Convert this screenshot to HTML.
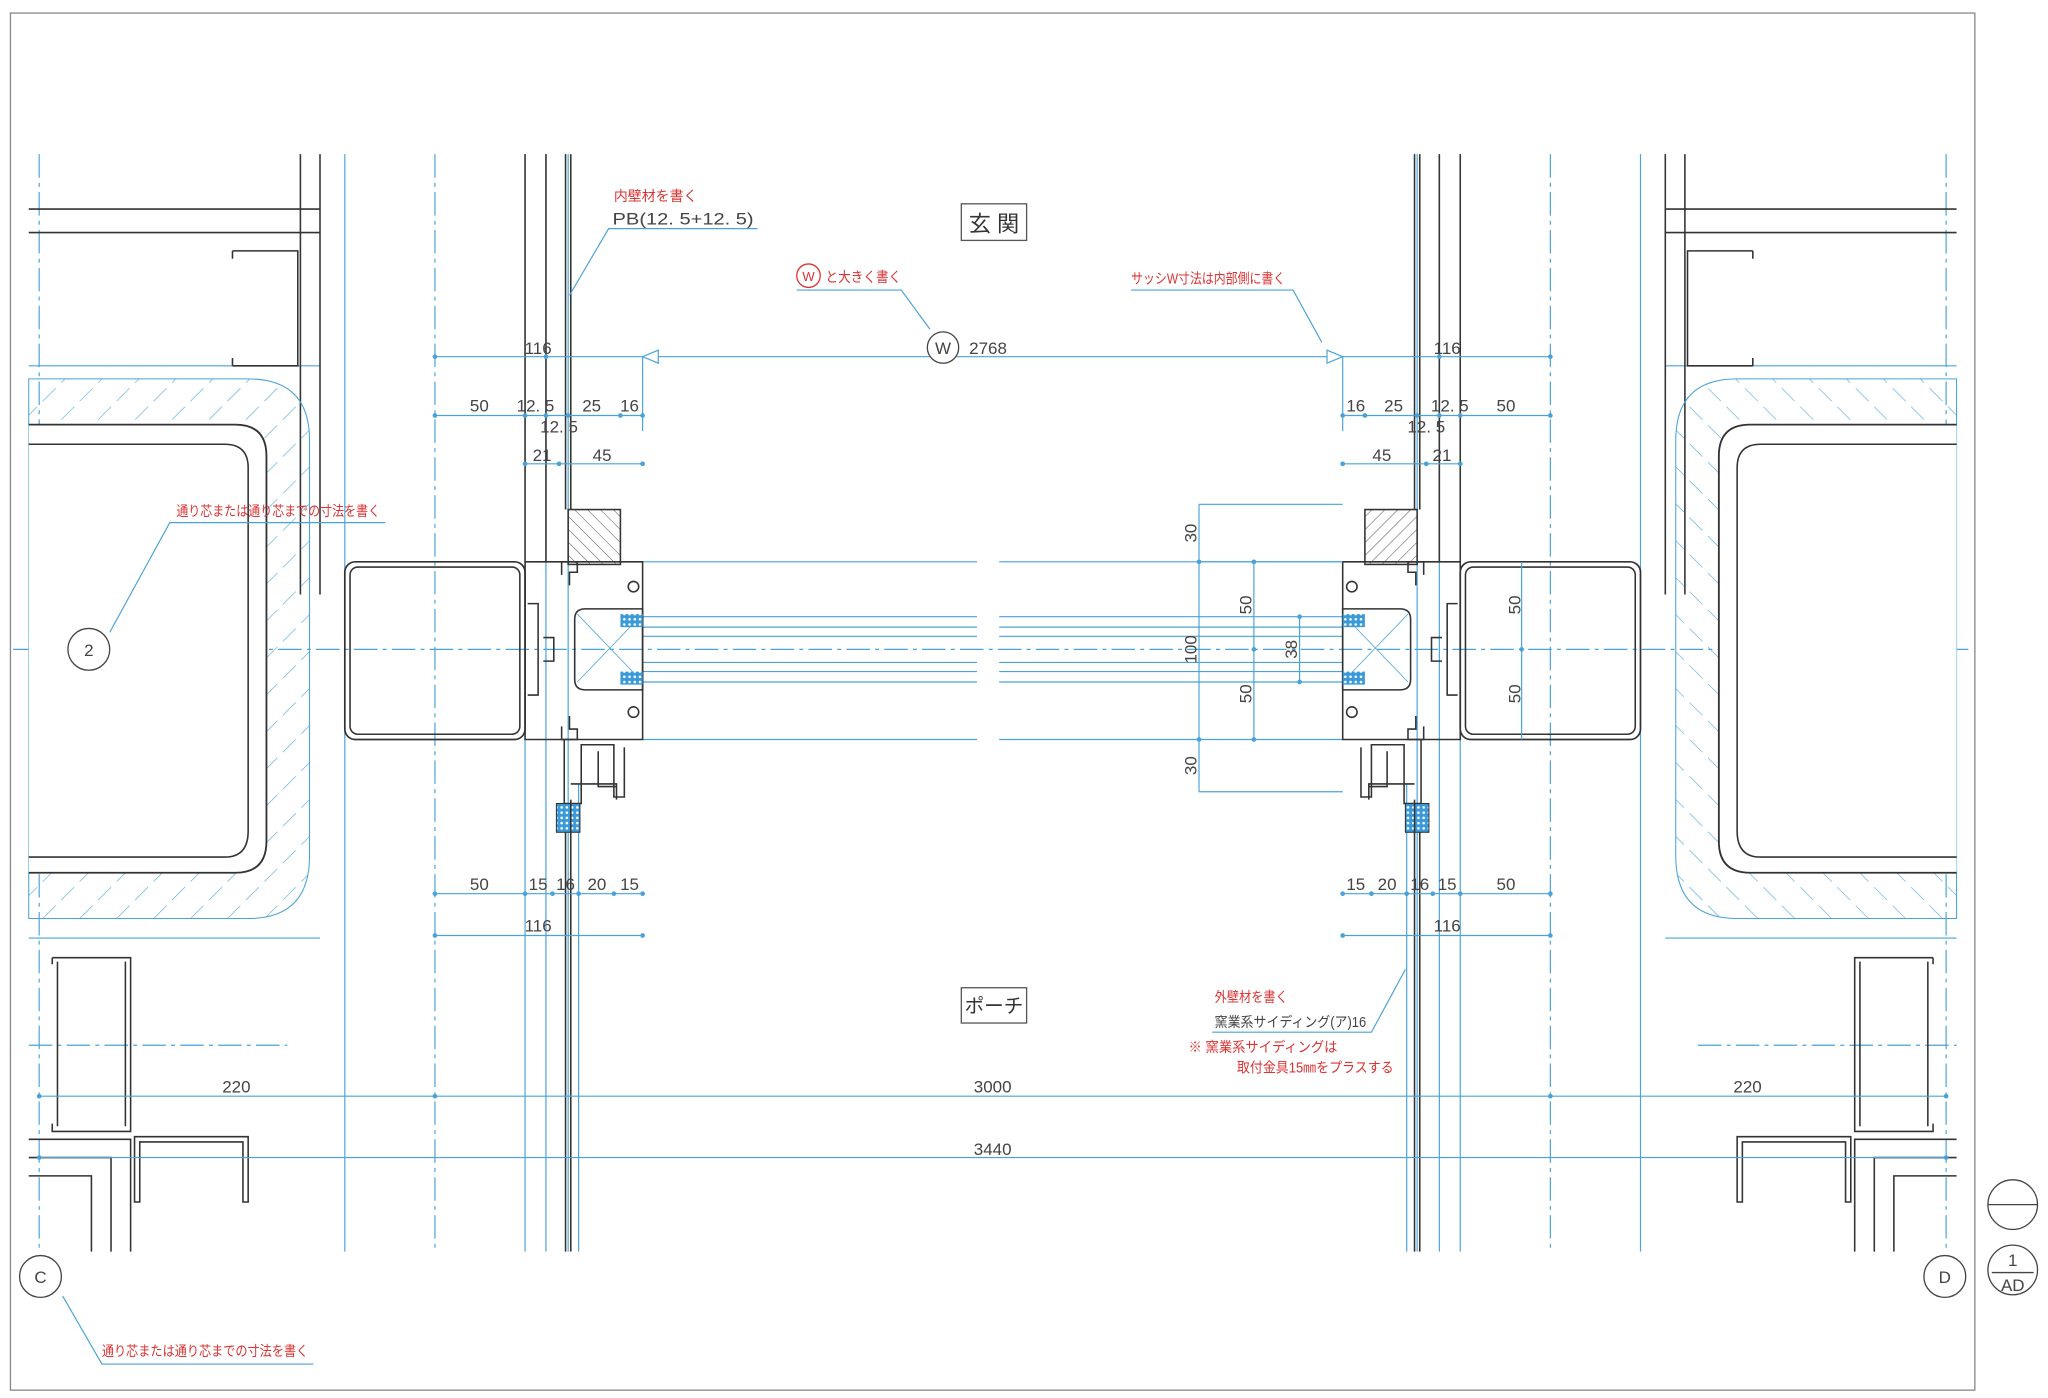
<!DOCTYPE html>
<html><head><meta charset="utf-8"><style>
html,body{margin:0;padding:0;background:#fff}
svg{display:block}
text{font-family:"Liberation Sans","Noto Sans CJK JP",sans-serif}
</style></head><body>
<svg width="2048" height="1398" viewBox="0 0 1568 1070" preserveAspectRatio="none" xmlns="http://www.w3.org/2000/svg">
<defs>
<pattern id="h" width="20" height="20" patternUnits="userSpaceOnUse" patternTransform="rotate(45)"><line x1="0" y1="0" x2="0" y2="20" stroke="#5aaedc" stroke-width="1" stroke-dasharray="14 6"/></pattern>
<pattern id="h2" width="7" height="7" patternUnits="userSpaceOnUse" patternTransform="rotate(-45)"><line x1="0" y1="0" x2="0" y2="7" stroke="#555" stroke-width="0.8"/></pattern>
<pattern id="x" width="4" height="4" patternUnits="userSpaceOnUse"><rect width="4" height="4" fill="#3a9ad9"/><circle cx="2" cy="2" r="1" fill="#fff"/></pattern>
</defs>
<rect x="8" y="10" width="1504" height="1054" fill="none" stroke="#888" stroke-width="1"/>

<g stroke="#4aa3d8" stroke-width="0.9" fill="none">
<g stroke-dasharray="18 4 3 4">
<line x1="30" y1="118" x2="30" y2="958"/><line x1="1490" y1="118" x2="1490" y2="958"/>
<line x1="333" y1="118" x2="333" y2="958"/><line x1="1187" y1="118" x2="1187" y2="958"/>
<line x1="10" y1="497" x2="1510" y2="497"/>
<line x1="22" y1="800" x2="220" y2="800"/><line x1="1300" y1="800" x2="1498" y2="800"/>
</g>
<line x1="264" y1="118" x2="264" y2="958"/><line x1="1256" y1="118" x2="1256" y2="958"/>
<line x1="402" y1="118" x2="402" y2="958"/><line x1="1118" y1="118" x2="1118" y2="958"/>
<line x1="418" y1="118" x2="418" y2="958"/><line x1="1102" y1="118" x2="1102" y2="958"/>
<line x1="435" y1="118" x2="435" y2="958"/><line x1="1085" y1="118" x2="1085" y2="958"/>
<line x1="443" y1="600" x2="443" y2="958"/><line x1="1077" y1="600" x2="1077" y2="958"/>
<line x1="22" y1="280" x2="245" y2="280"/><line x1="1275" y1="280" x2="1498" y2="280"/>
<line x1="22" y1="718" x2="245" y2="718"/><line x1="1275" y1="718" x2="1498" y2="718"/>
<line x1="492" y1="430" x2="748" y2="430"/><line x1="765" y1="430" x2="1028" y2="430"/>
<line x1="492" y1="566" x2="748" y2="566"/><line x1="765" y1="566" x2="1028" y2="566"/>
<line x1="492" y1="472" x2="748" y2="472"/><line x1="765" y1="472" x2="1028" y2="472"/>
<line x1="492" y1="522" x2="748" y2="522"/><line x1="765" y1="522" x2="1028" y2="522"/>
<line x1="492" y1="480" x2="748" y2="480"/><line x1="765" y1="480" x2="1028" y2="480"/>
<line x1="492" y1="487" x2="748" y2="487"/><line x1="765" y1="487" x2="1028" y2="487"/>
<line x1="492" y1="507" x2="748" y2="507"/><line x1="765" y1="507" x2="1028" y2="507"/>
<line x1="492" y1="514" x2="748" y2="514"/><line x1="765" y1="514" x2="1028" y2="514"/>
</g>

<g id="L" stroke="#333" stroke-width="1.2" fill="none">
<line x1="22" y1="160" x2="245" y2="160"/><line x1="22" y1="178" x2="245" y2="178"/>
<line x1="230" y1="118" x2="230" y2="455"/><line x1="245" y1="118" x2="245" y2="455"/>
<path d="M178 192 H228 V280 H178 M178 192 v6 M178 280 v-6" />
<path d="M22 290 H190 Q237 290 237 337 V655 Q237 703 190 703 H22 Z" fill="url(#h)" stroke="#4aa3d8" stroke-width="0.8"/>
<path d="M22 325 H180 Q204 325 204 349 V644 Q204 668 180 668 H22" stroke-width="1.4" fill="#fff"/>
<path d="M22 340 H172 Q190 340 190 358 V636 Q190 656 172 656 H22" stroke-width="1.2"/>
<rect x="264" y="430" width="138" height="136" rx="8" stroke-width="1.3"/>
<rect x="268" y="434" width="130" height="128" rx="6"/>
<line x1="402" y1="118" x2="402" y2="430"/><line x1="418" y1="118" x2="418" y2="430"/>
<line x1="433" y1="118" x2="433" y2="390"/><line x1="437" y1="118" x2="437" y2="390"/>
<rect x="435" y="390" width="40" height="42" fill="url(#h2)"/>
<path d="M402 430 H492 V566 H402 Z"/>
<path d="M448 466 H492 V528 H448 Q440 528 440 520 V474 Q440 466 448 466 Z"/>
<path d="M442 470 L492 522 M442 522 L492 470" stroke="#4aa3d8" stroke-width="0.6"/>
<rect x="475" y="470" width="17" height="10" fill="url(#x)" stroke="none"/>
<rect x="475" y="514" width="17" height="10" fill="url(#x)" stroke="none"/>
<circle cx="485" cy="449" r="4"/><circle cx="485" cy="545" r="4"/>
<path d="M430 440 v-10 h12 v8 h-6 v10 M430 556 v10 h12 v-8 h-6 v-10" />
<path d="M404 462 h8 v70 h-8 M416 488 h8 v18 h-8"/>
<path d="M432 566 V615 H445 V570 H470 V610 H478 V572" />
<path d="M458 575 V602 H472 M437 600 H472 V612"/>
<rect x="426" y="615" width="18" height="22" fill="url(#x)" stroke-width="0.8"/>
<line x1="437" y1="612" x2="437" y2="958"/><line x1="433" y1="637" x2="433" y2="958"/>
<path d="M40 733 V738 M40 733 H100 V866 H40 V860 M44 736 V862 M96 736 V862"/>
<path d="M103 870 H190 V920 H186 V874 H107 V920 H103 Z"/>
<path d="M22 872 H100 V958 M22 886 H85 V958 M22 900 H70 V958"/>
</g>
<use href="#L" transform="matrix(-1,0,0,1,1520,0)"/>

<g stroke="#4aa3d8" stroke-width="0.9" fill="#4aa3d8">
<line x1="333" y1="273" x2="1187" y2="273"/>
<line x1="333" y1="318" x2="492" y2="318"/><line x1="1028" y1="318" x2="1187" y2="318"/>
<line x1="402" y1="355" x2="492" y2="355"/><line x1="1028" y1="355" x2="1118" y2="355"/>
<line x1="333" y1="684" x2="492" y2="684"/><line x1="1028" y1="684" x2="1187" y2="684"/>
<line x1="333" y1="716" x2="492" y2="716"/><line x1="1028" y1="716" x2="1187" y2="716"/>
<line x1="30" y1="839" x2="1490" y2="839"/><line x1="30" y1="886" x2="1490" y2="886"/>
<line x1="492" y1="273" x2="492" y2="330"/><line x1="1028" y1="273" x2="1028" y2="330"/>
<line x1="918" y1="386" x2="1028" y2="386"/><line x1="918" y1="606" x2="1028" y2="606"/>
<line x1="918" y1="386" x2="918" y2="606"/><line x1="960" y1="430" x2="960" y2="566"/>
<line x1="995" y1="472" x2="995" y2="522"/><line x1="1165" y1="430" x2="1165" y2="566"/>
<line x1="918" y1="430" x2="1028" y2="430"/>
<g stroke="none">
<circle cx="333" cy="273" r="1.8"/><circle cx="1187" cy="273" r="1.8"/><circle cx="418" cy="273" r="1.8"/><circle cx="1102" cy="273" r="1.8"/>
<circle cx="333" cy="318" r="1.8"/><circle cx="402" cy="318" r="1.8"/><circle cx="418" cy="318" r="1.8"/><circle cx="435" cy="318" r="1.8"/><circle cx="475" cy="318" r="1.8"/><circle cx="492" cy="318" r="1.8"/>
<circle cx="1187" cy="318" r="1.8"/><circle cx="1118" cy="318" r="1.8"/><circle cx="1102" cy="318" r="1.8"/><circle cx="1085" cy="318" r="1.8"/><circle cx="1045" cy="318" r="1.8"/><circle cx="1028" cy="318" r="1.8"/>
<circle cx="402" cy="355" r="1.8"/><circle cx="428" cy="355" r="1.8"/><circle cx="492" cy="355" r="1.8"/><circle cx="1118" cy="355" r="1.8"/><circle cx="1092" cy="355" r="1.8"/><circle cx="1028" cy="355" r="1.8"/>
<circle cx="333" cy="684" r="1.8"/><circle cx="402" cy="684" r="1.8"/><circle cx="423" cy="684" r="1.8"/><circle cx="443" cy="684" r="1.8"/><circle cx="470" cy="684" r="1.8"/><circle cx="492" cy="684" r="1.8"/>
<circle cx="1187" cy="684" r="1.8"/><circle cx="1118" cy="684" r="1.8"/><circle cx="1097" cy="684" r="1.8"/><circle cx="1077" cy="684" r="1.8"/><circle cx="1050" cy="684" r="1.8"/><circle cx="1028" cy="684" r="1.8"/>
<circle cx="333" cy="716" r="1.8"/><circle cx="492" cy="716" r="1.8"/><circle cx="1187" cy="716" r="1.8"/><circle cx="1028" cy="716" r="1.8"/>
<circle cx="30" cy="839" r="1.8"/><circle cx="333" cy="839" r="1.8"/><circle cx="1187" cy="839" r="1.8"/><circle cx="1490" cy="839" r="1.8"/>
<circle cx="30" cy="886" r="1.8"/><circle cx="1490" cy="886" r="1.8"/>
<circle cx="918" cy="430" r="1.8"/><circle cx="918" cy="566" r="1.8"/><circle cx="960" cy="430" r="1.8"/><circle cx="960" cy="497" r="1.8"/><circle cx="960" cy="566" r="1.8"/><circle cx="995" cy="472" r="1.8"/><circle cx="995" cy="522" r="1.8"/><circle cx="1165" cy="497" r="1.8"/>
</g>
<path d="M492 273 L504 268 V278 Z M1028 273 L1016 268 V278 Z" fill="#fff"/>
<path d="M436 226 L466 175 H580" fill="none"/>
<path d="M712 252 L690 222 H610" fill="none"/>
<path d="M1012 262 L990 222 H866" fill="none"/>
<path d="M84 484 L130 400 H295" fill="none"/>
<path d="M48 992 L78 1044 H240" fill="none"/>
<path d="M1076 742 L1050 790 H928" fill="none"/>
</g>

<g fill="#444" font-size="13">
<text x="412" y="271" text-anchor="middle">116</text>
<text x="1108" y="271" text-anchor="middle">116</text>
<text x="742" y="271">2768</text>
<text x="367" y="315" text-anchor="middle">50</text><text x="410" y="315" text-anchor="middle">12. 5</text><text x="453" y="315" text-anchor="middle">25</text><text x="482" y="315" text-anchor="middle">16</text>
<text x="428" y="331" text-anchor="middle">12. 5</text>
<text x="415" y="353" text-anchor="middle">21</text><text x="461" y="353" text-anchor="middle">45</text>
<text x="1038" y="315" text-anchor="middle">16</text><text x="1067" y="315" text-anchor="middle">25</text><text x="1110" y="315" text-anchor="middle">12. 5</text><text x="1153" y="315" text-anchor="middle">50</text>
<text x="1092" y="331" text-anchor="middle">12. 5</text>
<text x="1058" y="353" text-anchor="middle">45</text><text x="1104" y="353" text-anchor="middle">21</text>
<text x="367" y="681" text-anchor="middle">50</text><text x="412" y="681" text-anchor="middle">15</text><text x="433" y="681" text-anchor="middle">16</text><text x="457" y="681" text-anchor="middle">20</text><text x="482" y="681" text-anchor="middle">15</text>
<text x="1038" y="681" text-anchor="middle">15</text><text x="1062" y="681" text-anchor="middle">20</text><text x="1087" y="681" text-anchor="middle">16</text><text x="1108" y="681" text-anchor="middle">15</text><text x="1153" y="681" text-anchor="middle">50</text>
<text x="412" y="713" text-anchor="middle">116</text><text x="1108" y="713" text-anchor="middle">116</text>
<text x="181" y="836" text-anchor="middle">220</text><text x="760" y="836" text-anchor="middle">3000</text><text x="1338" y="836" text-anchor="middle">220</text>
<text x="760" y="884" text-anchor="middle">3440</text>
<text transform="translate(916,408) rotate(-90)" text-anchor="middle">30</text>
<text transform="translate(916,586) rotate(-90)" text-anchor="middle">30</text>
<text transform="translate(916,497) rotate(-90)" text-anchor="middle">100</text>
<text transform="translate(958,463) rotate(-90)" text-anchor="middle">50</text>
<text transform="translate(958,531) rotate(-90)" text-anchor="middle">50</text>
<text transform="translate(993,497) rotate(-90)" text-anchor="middle">38</text>
<text transform="translate(1164,463) rotate(-90)" text-anchor="middle">50</text>
<text transform="translate(1164,531) rotate(-90)" text-anchor="middle">50</text>
<text x="469" y="172" textLength="108" lengthAdjust="spacingAndGlyphs">PB(12. 5+12. 5)</text>
<text x="930" y="786" font-size="11" textLength="116" lengthAdjust="spacingAndGlyphs">窯業系サイディング(ア)16</text>
</g>

<rect x="736" y="156" width="50" height="28" fill="#fff" stroke="#555"/>
<text x="761" y="177" font-size="17" text-anchor="middle" fill="#333">玄 関</text>
<rect x="736" y="756" width="50" height="27" fill="#fff" stroke="#555"/>
<text x="761" y="775" font-size="15" text-anchor="middle" fill="#333">ポーチ</text>

<g fill="#fff" stroke="#444" stroke-width="1">
<circle cx="722" cy="266" r="12"/><circle cx="68" cy="497" r="16"/><circle cx="31" cy="977" r="16"/><circle cx="1489" cy="977" r="16"/>
<circle cx="1541" cy="922" r="19"/><circle cx="1541" cy="972" r="19"/>
</g>
<g stroke="#444"><line x1="1522" y1="922" x2="1560" y2="922"/><line x1="1525" y1="974" x2="1557" y2="974"/></g>
<g fill="#444" text-anchor="middle">
<text x="722" y="271" font-size="13">W</text><text x="68" y="502" font-size="13">2</text><text x="31" y="982" font-size="13">C</text><text x="1489" y="982" font-size="13">D</text>
<text x="1541" y="969" font-size="13">1</text><text x="1541" y="988" font-size="13">AD</text>
</g>

<g fill="#d33" font-size="11">
<text x="470" y="154" textLength="64" lengthAdjust="spacingAndGlyphs">内壁材を書く</text>
<circle cx="619" cy="211" r="9" fill="none" stroke="#d33"/>
<text x="619" y="215" text-anchor="middle" font-size="10">W</text>
<text x="632" y="216" textLength="58" lengthAdjust="spacingAndGlyphs">と大きく書く</text>
<text x="866" y="217" textLength="118" lengthAdjust="spacingAndGlyphs">サッシW寸法は内部側に書く</text>
<text x="135" y="395" textLength="156" lengthAdjust="spacingAndGlyphs">通り芯または通り芯までの寸法を書く</text>
<text x="78" y="1038" textLength="158" lengthAdjust="spacingAndGlyphs">通り芯または通り芯までの寸法を書く</text>
<text x="930" y="767" textLength="56" lengthAdjust="spacingAndGlyphs">外壁材を書く</text>
<text x="910" y="805" textLength="114" lengthAdjust="spacingAndGlyphs">※ 窯業系サイディングは</text>
<text x="947" y="821" textLength="120" lengthAdjust="spacingAndGlyphs">取付金具15㎜をプラスする</text>
</g>
</svg>
</body></html>
